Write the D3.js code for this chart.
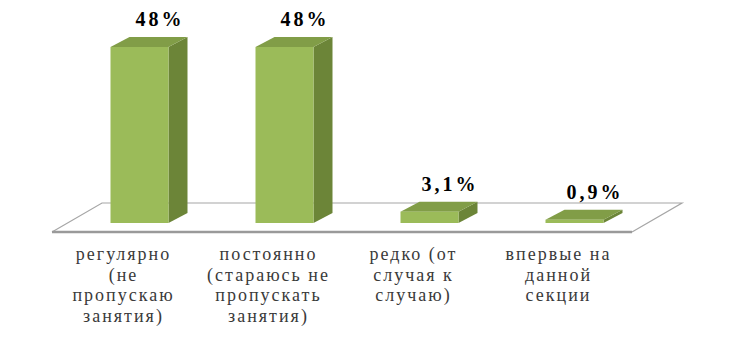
<!DOCTYPE html>
<html>
<head>
<meta charset="utf-8">
<script src="https://cdn.jsdelivr.net/npm/d3@7"></script>
<style>
  body { margin: 0; background: #fff; }
  .cat { font-size: 18px; fill: #3a3a3a; letter-spacing: 2px; }
  .val { font-size: 20px; font-weight: bold; fill: #000; letter-spacing: 3px; }
</style>
</head>
<body>
<div id="chart"></div>
<script>
(function() {
  var categories = ["c1", "c2", "c3", "c4"];
  var tickLabels = [
    ["регулярно", "(не", "пропускаю", "занятия)"],
    ["постоянно", "(стараюсь не", "пропускать", "занятия)"],
    ["редко (от", "случая к", "случаю)"],
    ["впервые на", "данной", "секции"]
  ];
  var values = [48, 48, 3.1, 0.9];

  var serif = "'Times New Roman', 'Liberation Serif', Tinos, 'DejaVu Serif', serif";
  var width = 735, height = 337;
  var floorFront = 232, floorLeft = 52, floorRight = 632;
  var depthX = 50, depthY = -29;     // floor depth
  var barW = 58, barDX = 19, barDY = -10; // bar depth
  var barBase = 223;

  var svg = d3.select("#chart")
    .append("svg")
    .attr("width", width)
    .attr("height", height);

  var xScale = d3.scaleBand().domain(categories).range([floorLeft, floorRight]);
  var yScale = d3.scaleLinear().domain([0, 48]).range([barBase, barBase - 176]);

  // floor
  var floor = svg.append("g");
  floor.append("path")
    .attr("d", "M" + floorLeft + "," + floorFront +
      "L" + (floorLeft + depthX) + "," + (floorFront + depthY) +
      "L" + (floorRight + depthX) + "," + (floorFront + depthY) +
      "L" + floorRight + "," + floorFront)
    .attr("fill", "none")
    .attr("stroke", "#a6a6a6")
    .attr("stroke-width", 1.2);
  floor.append("line")
    .attr("x1", floorLeft).attr("x2", floorRight)
    .attr("y1", floorFront).attr("y2", floorFront)
    .attr("stroke", "#9a9a9a")
    .attr("stroke-width", 2.5);

  function barX(d, i) {
    return xScale(categories[i]) + xScale.bandwidth() / 2 + depthX * 0.3 - barW / 2;
  }

  var bars = svg.selectAll(".bar")
    .data(values)
    .enter().append("g")
    .attr("class", "bar");

  // side
  bars.append("path")
    .attr("fill", "#6c8538")
    .attr("d", function(d, i) {
      var x = barX(d, i) + barW, top = yScale(d);
      return "M" + x + "," + top + "L" + (x + barDX) + "," + (top + barDY) +
        "L" + (x + barDX) + "," + (barBase + barDY) + "L" + x + "," + barBase + "Z";
    });
  // top
  bars.append("path")
    .attr("fill", "#819d47")
    .attr("d", function(d, i) {
      var x = barX(d, i), top = yScale(d);
      return "M" + x + "," + top + "L" + (x + barDX) + "," + (top + barDY) +
        "L" + (x + barW + barDX) + "," + (top + barDY) + "L" + (x + barW) + "," + top + "Z";
    });
  // front
  bars.append("rect")
    .attr("fill", "#9bbb59")
    .attr("x", barX)
    .attr("y", function(d) { return yScale(d); })
    .attr("width", barW)
    .attr("height", function(d) { return barBase - yScale(d); });

  // value labels
  svg.selectAll(".val")
    .data(values)
    .enter().append("text")
    .attr("class", "val")
    .attr("font-family", serif)
    .attr("text-anchor", "middle")
    .attr("x", function(d, i) { return barX(d, i) + barW / 2 + barDX + 1.5; })
    .attr("y", function(d) { return yScale(d) + barDY - 11; })
    .text(function(d) { return String(d).replace(".", ",") + "%"; });

  // category labels
  var cats = svg.selectAll(".cat")
    .data(tickLabels)
    .enter().append("text")
    .attr("class", "cat")
    .attr("font-family", serif)
    .attr("text-anchor", "middle")
    .attr("transform", function(d, i) {
      return "translate(" + (xScale(categories[i]) + xScale.bandwidth() / 2 - 1) + ",260)";
    });
  cats.selectAll("tspan")
    .data(function(d) { return d; })
    .enter().append("tspan")
    .attr("x", 0)
    .attr("y", function(d, j) { return j * 20.7; })
    .text(function(d) { return d; });
})();
</script>
</body>
</html>
